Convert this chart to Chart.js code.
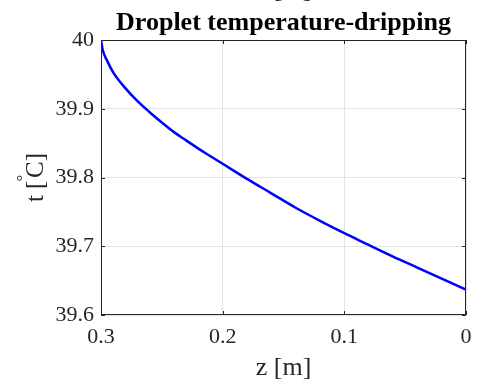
<!DOCTYPE html>
<html lang="en">
<head>
    <meta charset="UTF-8">
    <title>Droplet temperature-dripping</title>
    <script src="https://cdn.jsdelivr.net/npm/chart.js"></script>
    <style>
        html, body { margin: 0; padding: 0; background: #fff; }
        #wrap { width: 478px; height: 382px; }
    </style>
</head>
<body>
    <div id="wrap"><canvas id="chart"></canvas></div>
    <script>
        // z position [m] and droplet temperature [°C]
        var zValues = [0.3, 0.2985, 0.295, 0.29, 0.28, 0.27, 0.26, 0.25, 0.24, 0.23, 0.22, 0.21, 0.2,
                       0.18, 0.16, 0.14, 0.12, 0.1, 0.08, 0.06, 0.04, 0.02, 0];
        var tValues = [40.000, 39.985, 39.970, 39.953, 39.930, 39.911, 39.895, 39.880, 39.866, 39.854, 39.842, 39.831, 39.820,
                       39.798, 39.777, 39.756, 39.737, 39.719, 39.702, 39.685, 39.669, 39.653, 39.637];
        var xTicks = [0.3, 0.2, 0.1, 0];
        var yTicks = [39.6, 39.7, 39.8, 39.9, 40];

        var points = zValues.map(function (z, i) { return { x: z, y: tValues[i] }; });
        var serif = '"Liberation Serif", "Times New Roman", serif';

        // Rahmen, Ticks nach innen, Titel und Achsenbeschriftungen im MATLAB-Stil
        var matlabFrame = {
            id: 'matlabFrame',
            afterDraw: function (chart) {
                var c = chart.ctx, a = chart.chartArea;
                var xs = chart.scales.x, ys = chart.scales.y;
                c.save();
                c.strokeStyle = '#262626';
                c.lineWidth = 1;
                c.beginPath();
                c.rect(a.left + 0.5, a.top + 0.5, a.right - a.left - 1, a.bottom - a.top - 1);
                c.stroke();
                c.beginPath();
                xTicks.forEach(function (v) {
                    var px = Math.round(xs.getPixelForValue(v)) + 0.5;
                    c.moveTo(px, a.bottom); c.lineTo(px, a.bottom - 4);
                    c.moveTo(px, a.top); c.lineTo(px, a.top + 4);
                });
                yTicks.forEach(function (v) {
                    var py = Math.round(ys.getPixelForValue(v)) + 0.5;
                    c.moveTo(a.left, py); c.lineTo(a.left + 4, py);
                    c.moveTo(a.right, py); c.lineTo(a.right - 4, py);
                });
                c.stroke();

                var cx = (a.left + a.right) / 2;
                c.fillStyle = '#000';
                c.textAlign = 'center';
                c.textBaseline = 'alphabetic';
                c.font = 'bold 26px ' + serif;
                c.fillText('Droplet temperature-dripping', cx, 30);

                c.fillStyle = '#262626';
                c.font = '26px ' + serif;
                c.fillText('z [m]', cx, 375);
                c.fillText('z [m]', cx, -3);

                // y label: t [°C] mit hochgestelltem Gradzeichen
                c.textBaseline = 'middle';
                c.translate(36, (a.top + a.bottom) / 2);
                c.rotate(-Math.PI / 2);
                var p1 = 't [', p2 = 'C]';
                c.font = '25px ' + serif;
                var w1 = c.measureText(p1).width, w2 = c.measureText(p2).width;
                c.font = '17px ' + serif;
                var wd = c.measureText('\u00b0').width * 0.4;
                var total = w1 + wd + w2;
                var x0 = -total / 2;
                c.textAlign = 'left';
                c.font = '25px ' + serif;
                c.fillText(p1, x0, 0);
                c.font = '17px ' + serif;
                c.fillText('\u00b0', x0 + w1 - 1, -12);
                c.font = '25px ' + serif;
                c.fillText(p2, x0 + w1 + wd, 0);
                c.restore();
            }
        };

        var ctx = document.getElementById('chart').getContext('2d');
        var chart = new Chart(ctx, {
            type: 'line',
            data: {
                datasets: [{
                    data: points,
                    borderColor: '#0000ff',
                    borderWidth: 2.5,
                    pointRadius: 0,
                    cubicInterpolationMode: 'monotone',
                    fill: false
                }]
            },
            options: {
                responsive: true,
                maintainAspectRatio: false,
                animation: false,
                layout: { padding: { top: 40, right: 12, left: 0, bottom: 0 } },
                plugins: { legend: { display: false }, title: { display: false }, tooltip: { enabled: false } },
                scales: {
                    x: {
                        type: 'linear',
                        reverse: true,
                        min: 0,
                        max: 0.3,
                        afterBuildTicks: function (s) { s.ticks = xTicks.map(function (v) { return { value: v }; }); },
                        afterFit: function (s) { s.height = 67; s.paddingLeft = 0; s.paddingRight = 0; },
                        grid: { color: '#e3e3e3', drawTicks: false },
                        border: { display: false },
                        ticks: {
                            padding: 9,
                            color: '#262626',
                            font: { family: serif, size: 22 },
                            callback: function (v) { return String(Number(v.toFixed(1))); }
                        }
                    },
                    y: {
                        min: 39.6,
                        max: 40,
                        afterBuildTicks: function (s) { s.ticks = yTicks.map(function (v) { return { value: v }; }); },
                        afterFit: function (s) { s.width = 101; s.paddingTop = 0; s.paddingBottom = 0; },
                        grid: { color: '#e3e3e3', drawTicks: false },
                        border: { display: false },
                        ticks: {
                            padding: 7,
                            color: '#262626',
                            font: { family: serif, size: 22 },
                            callback: function (v) { return String(Number(v.toFixed(1))); }
                        }
                    }
                }
            },
            plugins: [matlabFrame]
        });
    </script>
</body>
</html>
